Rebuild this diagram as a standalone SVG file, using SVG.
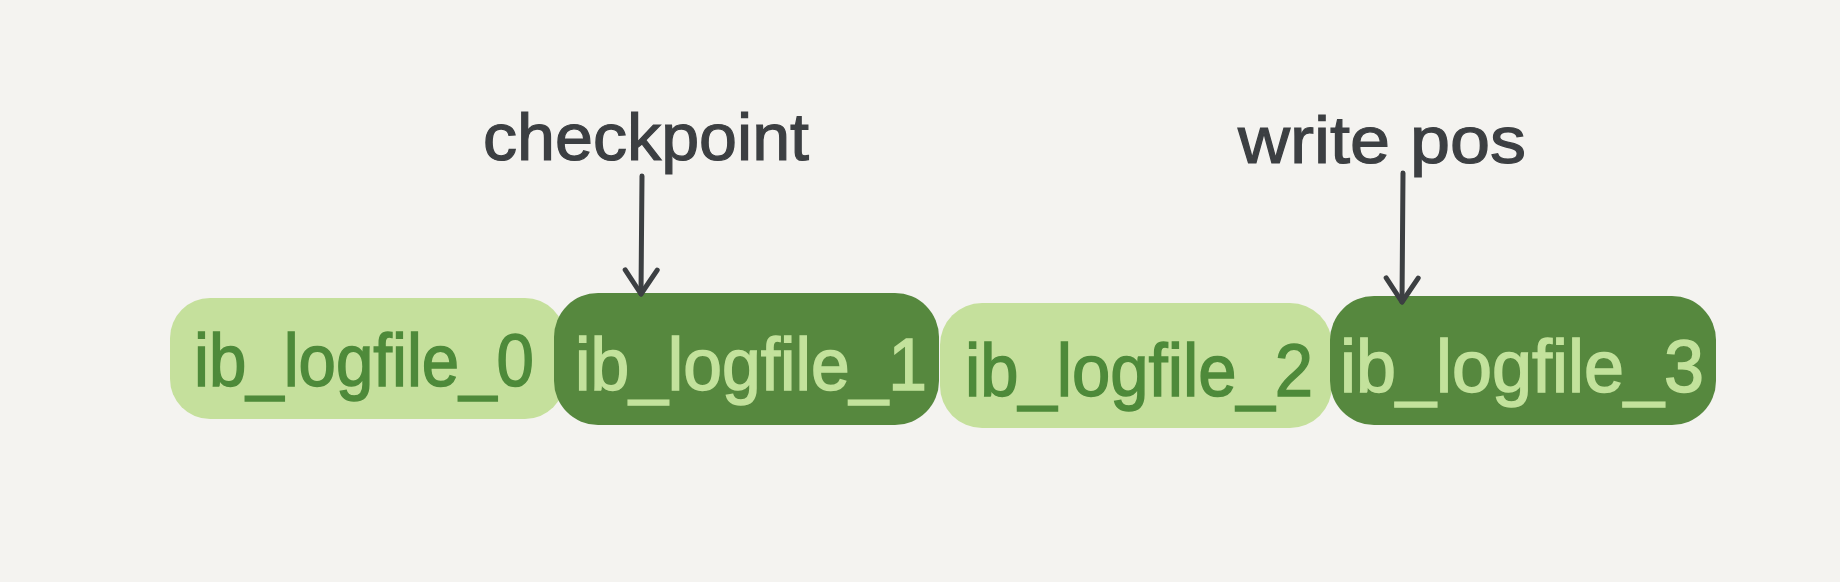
<svg xmlns="http://www.w3.org/2000/svg" width="1840" height="582" viewBox="0 0 1840 582">
<defs>
<style>
.light{fill:#c5e09c}
.dark{fill:#56883e}
.tl{fill:#4e8a3a;stroke:#4e8a3a;stroke-width:1.5}
.td{fill:#c3e29c;stroke:#c3e29c;stroke-width:1.5}
.ft{font-family:"Liberation Sans",Arial,sans-serif;font-size:74px}
.lbl{font-family:"Liberation Sans",Arial,sans-serif;font-size:66px;fill:#3c3f42;stroke:#3c3f42;stroke-width:1.2}
.arr{stroke:#3c3f42;stroke-width:5;fill:none;stroke-linecap:round;stroke-linejoin:round}
</style>
<marker id="ah" viewBox="0 0 20 20" refX="18" refY="10" markerWidth="8" markerHeight="8" markerUnits="strokeWidth" orient="auto">
<path d="M6 2 L18 10 L6 18" fill="none" stroke="#3c3f42" stroke-width="2.5" stroke-linecap="round" stroke-linejoin="round"/>
</marker>
</defs>
<rect width="1840" height="582" fill="#f4f3f0"/>
<g id="node-ib_logfile_0">
<rect class="light" x="170" y="298" width="395" height="121" rx="40"/>
<text class="ft tl" x="194" y="386" textLength="340" lengthAdjust="spacingAndGlyphs">ib_logfile_0</text>
</g>
<g id="node-ib_logfile_1">
<rect class="dark" x="554" y="293" width="385" height="132" rx="44"/>
<text class="ft td" x="575" y="390" textLength="352" lengthAdjust="spacingAndGlyphs">ib_logfile_1</text>
</g>
<g id="node-ib_logfile_2">
<rect class="light" x="940" y="303" width="392" height="125" rx="42"/>
<text class="ft tl" x="965" y="396" textLength="348" lengthAdjust="spacingAndGlyphs">ib_logfile_2</text>
</g>
<g id="node-ib_logfile_3">
<rect class="dark" x="1330" y="296" width="386" height="129" rx="44"/>
<text class="ft td" x="1340" y="392" textLength="364" lengthAdjust="spacingAndGlyphs">ib_logfile_3</text>
</g>
<g id="label-checkpoint">
<text class="lbl" x="483" y="160" textLength="326" lengthAdjust="spacingAndGlyphs">checkpoint</text>
</g>
<g id="label-write-pos">
<text class="lbl" x="1238" y="163" textLength="288" lengthAdjust="spacingAndGlyphs">write pos</text>
</g>
<g id="connectors">
<path class="arr" d="M642 176 L641 294" marker-end="url(#ah)"/>
<path class="arr" d="M1403 173 L1402 302" marker-end="url(#ah)"/>
</g>
</svg>
